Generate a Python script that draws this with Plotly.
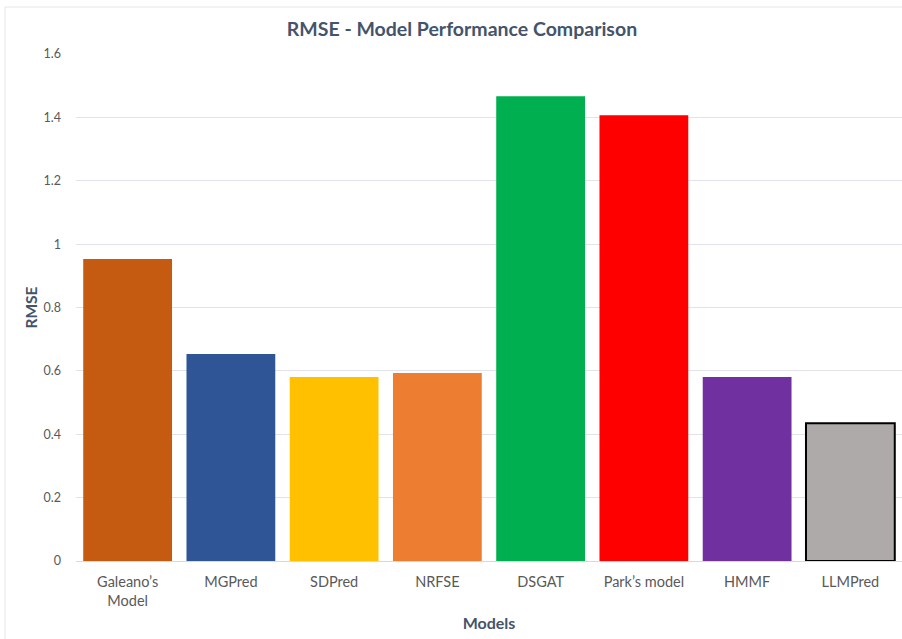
import plotly.graph_objects as go

models = ["Galeano’s<br>Model", "MGPred", "SDPred", "NRFSE", "DSGAT", "Park’s model", "HMMF", "LLMPred"]
rmse = [0.953, 0.653, 0.581, 0.593, 1.467, 1.407, 0.581, 0.435]
colors = ["#C55A11", "#2F5597", "#FFC000", "#ED7D31", "#00B050", "#FF0000", "#7030A0", "#AEAAAA"]
line_colors = ["rgba(0,0,0,0)"] * 7 + ["#000000"]
line_widths = [0] * 7 + [2]

fig = go.Figure(go.Bar(
    x=models, y=rmse,
    marker=dict(color=colors, line=dict(color=line_colors, width=line_widths)),
))

font_family = "Lato, 'Open Sans', sans-serif"
fig.update_layout(
    width=902, height=639,
    margin=dict(l=76, r=0, t=54, b=78),
    paper_bgcolor="white", plot_bgcolor="white",
    bargap=0.14,
    showlegend=False,
    font=dict(family=font_family, color="#595959", size=13),
    title=dict(text="<b>RMSE - Model Performance Comparison</b>", x=462/902, xanchor="center",
               y=1 - 29/639, yanchor="middle", xref="container", yref="container",
               font=dict(size=19.5, color="#44546A", family=font_family)),
    xaxis=dict(title=dict(text="<b>Models</b>", font=dict(size=16, color="#44546A"), standoff=9),
               showgrid=False, showline=True, linecolor="#D9D9D9", linewidth=1,
               tickfont=dict(size=14.5, color="#595959"), ticks="", ticklabelstandoff=8),
    yaxis=dict(title=dict(text="<b>RMSE</b>", font=dict(size=15.5, color="#44546A"), standoff=2),
               range=[0, 1.6], tickvals=[0, 0.2, 0.4, 0.6, 0.8, 1.0, 1.2, 1.4, 1.6],
               ticktext=["0", "0.2", "0.4", "0.6", "0.8", "1", "1.2", "1.4", "1.6"],
               showgrid=True, gridcolor="#E2E2EA", gridwidth=1, zeroline=False,
               tickfont=dict(size=12.5, color="#595959"), ticks="", ticklabelstandoff=14),
    shapes=[dict(type="rect", xref="paper", yref="paper",
                 x0=(5 - 76) / 826, x1=(920 - 76) / 826,
                 y0=-(650 - 561) / 507, y1=(561 - 7) / 507,
                 line=dict(color="#E6E6EA", width=1), fillcolor="rgba(0,0,0,0)", layer="below")],
)

fig.write_html("out.html")
